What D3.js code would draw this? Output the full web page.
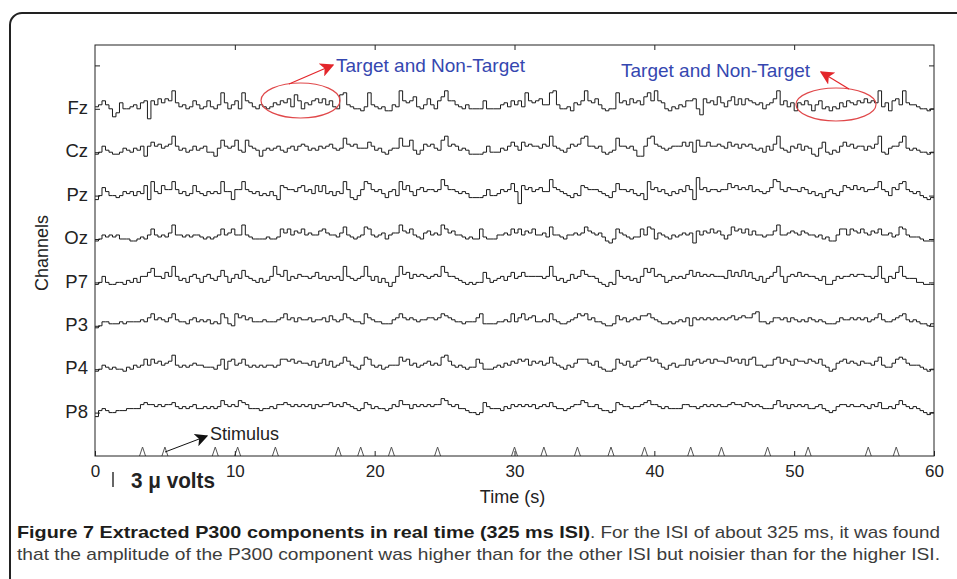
<!DOCTYPE html>
<html>
<head>
<meta charset="utf-8">
<script src="https://cdn.jsdelivr.net/npm/d3@7"></script>
<style>
  body { margin: 0; background: #fff; }
  svg text { font-family: "Liberation Sans", Arial, sans-serif; }
</style>
</head>
<body>
<script>
// channel names, top to bottom
const channels = ['Fz', 'Cz', 'Pz', 'Oz', 'P7', 'P3', 'P4', 'P8']

// traces: one sample every 0.25 s, values in 0.4 uV steps (one row = 15 s)
const fz = [
  1, 2, 4, 2, 0, -4, -2, 3, 0, 0, 1, 2, 0, 3, 4, -5, 4, 2, 5, 3, 5, 4, 9, 3, 1, 2, 0, 1, 4, 2, 0, 1, 4, 1, 0, 2, 8, 3, 0, 2, 4, 0, 8, 4, 3, 1, 0, 2, 1, 0, 1, 3, 2, 4, 3, 5, 1, 7, 4, 0,
  3, 2, 4, 5, 3, 5, 2, 4, 1, 0, 7, 8, 2, 1, 0, 0, -1, 1, 8, 2, 1, 0, 1, -1, -1, 2, 1, 9, 4, 3, 4, 6, 1, 0, 2, 5, 2, 0, 4, 6, 9, 4, 4, 2, 1, 0, 2, 0, 0, 0, 0, 4, 0, 0, 0, 0, 2, 3, 1, 4,
  2, 4, 1, 8, 4, 3, 4, 5, 2, 2, 8, 9, 2, 0, 0, 1, -1, 3, 2, 4, 9, 4, 3, 5, 2, 0, -1, 0, 0, 8, 3, 4, 2, 5, 3, 4, 2, 6, 8, 4, 9, 4, 3, 0, -1, 1, 0, 2, 1, 4, 4, 5, 0, -3, 5, 3, 4, 2, 6, 3,
  1, 4, 6, 2, 5, 2, 5, 4, 3, 2, 3, 0, 2, 3, 5, 9, 2, 4, 1, 3, -1, 3, 2, 4, 2, -1, 2, 4, 0, 1, -1, 1, 0, 3, 1, 4, 3, 2, 4, 3, 5, 3, 4, 3, 9, 1, 3, -1, 4, 5, 2, 9, 3, 2, 2, 1, 0, 0, -1, 0
]
const cz = [
  -1, 0, 3, 1, 0, -1, -1, 0, 2, 1, 0, 2, 1, 3, -2, 3, 5, 3, 4, 2, 3, 4, 8, 3, 1, 2, 0, 1, 3, 1, 2, 3, 0, 0, -2, 2, 6, 3, 2, 3, 6, 1, 0, 6, 3, 2, 1, -2, 1, 2, 1, 2, 3, 1, 0, 2, 3, 1, 3, 4,
  3, 1, 2, 1, 3, 2, 3, 4, 2, 1, 2, 7, 4, 3, 4, 2, 2, 2, 5, 3, 1, 2, 0, -1, 1, 2, 2, 7, 3, 3, 6, 1, -1, 1, 4, 3, 4, 2, 1, 6, 8, 3, 4, 3, 1, 2, 1, -1, -1, -1, -1, 0, 3, 0, 0, 0, 2, 1, 3, 5,
  3, 1, 5, 3, 4, 3, 3, 2, 4, 3, 8, 3, 2, 1, 0, 2, 4, 3, 4, 7, 8, 3, 3, 2, 3, 0, -1, 0, 1, 7, 3, 3, 2, 3, 1, -2, -2, 3, 7, 8, 4, 3, 2, 1, 2, 3, 3, 3, 5, 3, 5, 0, 6, 3, 3, 5, 3, 3, 4, 3,
  2, 5, 3, 4, 2, 4, 3, 4, 2, 1, 2, 0, 3, 1, 4, 8, 2, 1, 0, 3, 2, 4, 1, 3, 2, -1, -2, 2, 5, 0, -1, 1, 0, 3, 5, 3, 4, 2, 3, 3, 1, 3, 2, 4, 8, 0, -1, 2, 3, 3, 5, 8, 2, 1, 2, 1, 0, 0, -1, 0
]
const pz = [
  -2, 0, 4, 2, 0, 0, -1, 0, 2, 1, 2, 0, 2, 1, 5, -2, 7, 2, 1, 5, 3, 3, 7, 3, 1, 2, 0, 1, 5, 2, 1, 0, 2, 1, 2, 1, 7, 2, 2, -2, 3, 3, 7, 3, 2, 1, 2, 0, 1, 0, 2, 0, -2, 5, 4, 3, 3, 2, 4, 5,
  2, 3, 1, 5, 2, 5, 1, 2, 0, 2, 1, 7, 3, -1, -2, 0, 3, 7, 6, 3, 2, 3, 1, -1, 2, 3, 0, 7, 3, 5, 2, 0, 3, 4, 2, 3, 3, 2, 3, 8, 5, 3, 3, 2, 1, 2, 1, -1, -1, -1, -1, 0, 3, 0, 0, 1, 3, 2, 3, 6,
  2, -4, 5, 3, 4, 2, 3, 4, 2, 2, 8, 4, 3, 2, 1, 0, -1, 1, 0, 5, 4, 3, 3, 3, 2, 1, 0, -1, 2, 6, 3, 3, 2, 3, 1, 0, 1, -2, 7, 3, 4, 2, 3, 1, 0, 2, 1, 3, 2, 5, 3, -2, 9, 3, 4, 2, 3, 3, 2, 3,
  3, 6, 4, 5, 3, 4, 3, 5, 2, 3, 2, 1, 2, 4, 8, 7, 3, 2, 4, 3, 3, 2, 4, 3, 1, 2, 0, 1, -1, 2, 3, 1, 0, 2, 5, 4, 3, 5, 3, 4, 2, 3, 3, 4, 7, 3, 2, 0, 4, 3, 6, 7, 3, 2, 1, 2, 0, -1, -2, -1
]
const oz = [
  -1, 0, 2, 1, 2, 1, 2, 0, 0, 0, -1, -1, 0, 1, 0, 2, 5, 2, 1, 2, 1, 3, 7, 2, 2, 1, 2, 1, 2, 2, 1, 0, 1, 0, 1, 2, 5, 2, 3, 5, 2, 2, 7, 2, 1, 0, 0, 0, 0, 1, 0, 0, 1, 5, 3, 5, 2, 4, 3, 5,
  2, 3, 2, 2, 4, 5, 3, 2, 2, 1, 3, 6, 2, 1, 0, 1, 2, 6, 5, 2, 1, 2, 3, 0, 2, 3, 3, 7, 4, 3, 5, 2, 1, 0, 3, 4, 2, 3, 2, 7, 5, 3, 4, 2, 2, 1, 0, 1, 0, 0, 5, 1, 0, 0, 0, 2, 2, 3, 2, 5,
  3, 5, 2, 4, 3, 5, 2, 2, 3, 1, 6, 2, 2, 1, 0, 2, 2, 3, 2, 3, 6, 4, 3, 2, 3, 1, -1, -2, 0, 5, 3, 2, 1, 0, 1, 1, 5, 2, 6, 5, 0, 3, 2, 1, 0, 2, 1, 2, 3, 2, 3, -2, 4, 2, 4, 3, 5, 3, 4, 2,
  0, 2, 6, 4, 5, 3, 5, 2, 4, 2, 2, 1, 2, 2, 4, 7, 2, 2, 3, 4, 3, 2, 4, 3, 2, 2, 1, 2, 0, 1, -1, -1, 2, 5, 5, 2, 5, 4, 3, 5, 3, 2, 4, 3, 5, 2, 2, 3, 1, 2, 6, 5, 2, 1, 1, 1, 0, -1, -1, -1
]
const p7 = [
  -1, 0, 3, 0, -1, -1, 0, 0, -1, 1, 0, 2, 0, 3, 3, 5, 7, 3, 3, 2, 5, 3, 8, 3, 1, 2, 0, 3, 4, 2, 0, 3, 4, 2, 1, 3, 6, 3, 0, 2, 4, 2, 6, 3, 2, 1, 0, 2, 0, 1, 3, 8, 4, 3, 6, 1, 3, 2, 4, 3,
  3, 2, 3, 5, 2, 3, 1, 3, 2, 3, 1, 8, 3, 2, 1, 2, 3, 8, 3, 1, 3, 0, 2, 0, -2, 0, 3, 8, 4, 5, 2, 4, 3, 4, 3, 2, 3, 4, 3, 8, 5, 3, 3, 2, 1, 0, -1, 0, -1, 0, 0, 5, 2, 0, 1, 2, 3, 1, 3, 5,
  2, 3, 5, 3, 3, 3, 3, 3, 2, 3, 8, 3, 1, 2, 0, 1, 4, 2, 3, 6, 4, 3, 3, 2, 0, -1, -2, 0, -1, 6, 3, 2, 3, 1, 2, 0, 3, 7, 5, 7, 3, 4, 3, 0, 1, 3, 2, 3, 2, 4, 6, 3, 5, 3, 4, 3, 4, 3, 3, 3,
  2, 6, 3, 5, 3, 6, 3, 5, 2, 1, 3, 0, 2, 3, 5, 8, 3, 0, 3, 4, 3, 5, 3, 4, 3, 3, 2, 1, 3, -1, -1, 1, 3, 2, 3, 3, 4, 3, 4, 4, 3, 3, 2, 3, 8, 2, 0, 3, 2, 5, 8, 3, 2, 2, 2, 0, 0, -1, -1, -1
]
const p3 = [
  -1, 0, 2, 2, 1, 1, 1, 2, 1, 2, 2, 2, 2, 3, 2, 4, 6, 3, 4, 3, 2, 4, 6, 3, 2, 2, 1, 3, 4, 2, 3, 2, 3, 1, 2, 1, 6, 4, 1, 0, 6, 4, 5, 3, 4, 2, 2, 2, 3, 2, 2, 2, 3, 4, 6, 3, 4, 2, 4, 3,
  3, 4, 2, 3, 3, 4, 2, 5, 3, 2, 3, 6, 4, 3, 2, 2, 1, 6, 4, 3, 2, 2, 1, 1, 1, 3, 4, 6, 4, 3, 4, 3, 2, 3, 3, 4, 4, 3, 4, 6, 5, 4, 3, 2, 2, 1, 2, 2, 2, 4, 6, 1, 1, 1, 1, 2, 2, 3, 2, 6,
  2, 4, 6, 3, 4, 5, 2, 2, 3, 2, 6, 3, 2, 1, 1, 2, 3, 4, 6, 5, 6, 3, 4, 2, 2, 1, 0, 0, 1, 5, 3, 4, 2, 3, 4, 3, 5, 5, 6, 4, 3, 2, 1, 1, 2, 1, 2, 3, 2, 4, 0, 4, 3, 4, 3, 4, 3, 4, 3, 4,
  3, 4, 5, 3, 4, 5, 4, 4, 6, 7, 2, 2, 1, 2, 4, 4, 3, 4, 2, 4, 3, 2, 3, 2, 4, 3, 2, 3, 2, 1, 1, 1, 2, 4, 3, 3, 4, 3, 4, 3, 4, 2, 3, 4, 6, 3, 2, 2, 3, 4, 5, 6, 3, 2, 3, 2, 1, 1, 0, 1
]
const p4 = [
  -1, 0, 2, 1, 0, 1, 0, 0, -1, 1, 0, 2, 1, 2, 5, 2, 5, 3, 4, 2, 3, 4, 7, 2, 1, 2, 1, 2, 3, 2, 2, 1, 1, 1, 0, 2, 5, 0, 4, 5, 2, 3, 5, 2, 1, 2, 1, 2, 1, 2, 2, 1, 2, 5, 5, 4, 5, 3, 4, 3,
  3, 2, 4, 1, 3, 5, 2, 4, 1, 2, 3, 6, 4, 2, 1, 0, 2, 6, 5, 2, 1, 2, 0, 1, 2, 2, 2, 6, 4, 5, 2, 3, 1, 2, 3, 4, 2, 3, 2, 6, 7, 4, 2, 1, 2, 1, 0, 1, 1, 5, 3, 0, 0, 0, 1, 2, 1, 3, 2, 4,
  3, 5, 4, 5, 2, 4, 3, 4, 2, 3, 6, 3, 2, 1, 0, 2, 1, 3, 5, 5, 5, 3, 2, 4, 1, 0, -1, -1, 0, 5, 3, 2, 4, 1, 2, 4, 5, 5, 6, 4, 5, 3, 1, 0, 2, 3, 1, 2, 2, 5, 2, 4, 5, 3, 4, 5, 3, 5, 4, 4,
  3, 6, 4, 5, 3, 5, 2, 5, 6, 2, 2, 1, 2, 2, 5, 6, 3, 5, 4, 2, 5, 4, 4, 3, 5, 4, 3, 5, 2, 1, -1, 0, 3, 4, 5, 3, 4, 3, 2, 4, 3, 3, 2, 4, 6, 2, 1, 1, 3, 5, 6, 5, 3, 2, 2, 2, 1, 0, -1, 0
]
const p8 = [
  -2, 1, 2, 1, 0, 0, 1, 1, 1, 2, 2, 2, 2, 4, 5, 4, 4, 3, 4, 3, 4, 4, 5, 3, 2, 3, 2, 3, 4, 2, 2, 3, 2, 3, 2, 3, 6, 4, 3, 4, 3, 6, 5, 4, 2, 2, 2, 1, 2, 2, 3, 2, 4, 4, 5, 4, 3, 4, 3, 4,
  3, 4, 2, 4, 3, 4, 4, 5, 3, 4, 3, 5, 4, 3, 2, 1, 2, 5, 4, 2, 3, 2, 2, 1, 2, 4, 3, 6, 4, 4, 2, 4, 3, 4, 3, 4, 3, 4, 4, 7, 6, 4, 3, 4, 2, 2, 1, 0, 0, -1, 0, 5, 3, 2, 2, 2, 1, 3, 2, 4,
  3, 4, 3, 4, 3, 4, 2, 3, 4, 3, 5, 3, 2, 2, 1, 2, 3, 4, 4, 6, 5, 3, 3, 4, 2, 1, 1, 0, 1, 5, 4, 3, 3, 2, 3, 3, 4, 5, 6, 4, 4, 3, 2, 3, 2, 2, 2, 2, 4, 4, 3, 3, 2, 3, 4, 3, 4, 3, 4, 3,
  3, 4, 5, 4, 4, 3, 5, 4, 3, 4, 3, 2, 2, 2, 4, 6, 3, 4, 2, 4, 3, 4, 3, 4, 2, 2, 3, 4, 2, 1, 0, 1, 3, 4, 4, 3, 4, 3, 3, 4, 3, 2, 4, 3, 5, 2, 2, 3, 2, 4, 6, 4, 3, 2, 3, 2, 1, 0, -1, 0
]
const traces = [fz, cz, pz, oz, p7, p3, p4, p8]

// stimulus onsets (s)
const stimulusTimes = [3.4, 5.0, 8.6, 10.2, 12.9, 17.4, 19.0, 21.2, 24.5, 30.0, 32.1, 34.5, 36.9, 39.3, 42.6, 44.8, 48.1, 51.0, 55.3, 57.3]
const timeTicks = [0, 10, 20, 30, 40, 50, 60]
const sampleStep = 0.25
const stepUV = 0.4
const scaleBarUV = 3

const width = 957
const height = 579
const svg = d3.select('body').append('svg')
  .attr('width', width)
  .attr('height', height)

// rounded figure frame (runs off the right and bottom edges)
svg.append('rect')
  .attr('x', 10).attr('y', 13)
  .attr('width', 990).attr('height', 640)
  .attr('rx', 12)
  .attr('fill', 'none')
  .attr('stroke', '#222')
  .attr('stroke-width', 2)

const x = d3.scaleLinear().domain([0, 60]).range([95, 934])
const y = d3.scaleLinear().domain([0, 9.47]).range([456, 45])
const amp = d3.scaleLinear().domain([0, 3]).range([0, 15]) // uV -> px

const level = i => channels.length - i

const defs = svg.append('defs')
const addHead = (id, color, size) => defs.append('marker')
  .attr('id', id)
  .attr('viewBox', '0 0 10 10')
  .attr('refX', 9).attr('refY', 5)
  .attr('markerWidth', size).attr('markerHeight', size)
  .attr('markerUnits', 'userSpaceOnUse')
  .attr('orient', 'auto')
  .append('path')
    .attr('d', 'M0,0 L10,5 L0,10 L2.5,5 Z')
    .attr('fill', color)
addHead('head-red', '#e3262b', 14)
addHead('head-black', '#111', 13)

// traces
const plot = svg.append('g')
traces.forEach((vals, i) => {
  const pts = vals.map((v, k) => [k * sampleStep, v])
  pts.push([60, vals[vals.length - 1]])
  const line = d3.line()
    .x(d => x(d[0]))
    .y(d => y(level(i)) - amp(d[1] * stepUV))
    .curve(d3.curveStepAfter)
  plot.append('path')
    .attr('d', line(pts))
    .attr('fill', 'none')
    .attr('stroke', '#1a1a1a')
    .attr('stroke-width', 1)
})

// stimulus markers
svg.append('g').selectAll('path')
  .data(stimulusTimes)
  .enter().append('path')
    .attr('d', t => `M${x(t) - 3},${y(0)} L${x(t)},${y(0) - 9} L${x(t) + 3},${y(0)}`)
    .attr('fill', 'none')
    .attr('stroke', '#555')
    .attr('stroke-width', 1)

// axes, ticks pointing inwards
const styleAxis = g => {
  g.select('.domain').remove()
  g.attr('font-family', '"Liberation Sans", Arial, sans-serif')
    .attr('color', '#222')
}
svg.append('g')
  .attr('transform', `translate(0,${y(0)})`)
  .call(d3.axisBottom(x).tickValues(timeTicks).tickSize(-5).tickPadding(9))
  .call(styleAxis)
  .attr('font-size', 17)
svg.append('g')
  .attr('transform', `translate(0,${y.range()[1]})`)
  .call(d3.axisTop(x).tickValues(timeTicks.slice(1, -1)).tickSize(-5).tickFormat(''))
  .call(styleAxis)
const levels = d3.range(1, channels.length + 2)
svg.append('g')
  .attr('transform', `translate(${x(0)},0)`)
  .call(d3.axisLeft(y).tickValues(levels).tickSize(-5).tickPadding(7)
    .tickFormat(v => channels[channels.length - v] || ''))
  .call(styleAxis)
  .attr('font-size', 18.5)
  .selectAll('text').attr('dy', '0.25em')
svg.append('g')
  .attr('transform', `translate(${x(60)},0)`)
  .call(d3.axisRight(y).tickValues(levels).tickSize(-5).tickFormat(''))
  .call(styleAxis)

svg.append('rect')
  .attr('x', x(0)).attr('y', y.range()[1])
  .attr('width', x(60) - x(0)).attr('height', y(0) - y.range()[1])
  .attr('fill', 'none')
  .attr('stroke', '#222')
  .attr('stroke-width', 1)

// axis titles
svg.append('text')
  .attr('x', x(30) - 2).attr('y', 503)
  .attr('text-anchor', 'middle')
  .attr('font-size', 18)
  .attr('fill', '#222')
  .text('Time (s)')
svg.append('text')
  .attr('transform', 'translate(48,253) rotate(-90)')
  .attr('text-anchor', 'middle')
  .attr('font-size', 18)
  .attr('fill', '#222')
  .text('Channels')

// amplitude scale bar
svg.append('line')
  .attr('x1', 113).attr('x2', 113)
  .attr('y1', 487).attr('y2', 487 - amp(scaleBarUV))
  .attr('stroke', '#333')
  .attr('stroke-width', 1.5)
svg.append('text')
  .attr('x', 131).attr('y', 488)
  .attr('font-size', 22)
  .attr('font-weight', 'bold')
  .attr('fill', '#222')
  .attr('textLength', 84)
  .attr('lengthAdjust', 'spacingAndGlyphs')
  .text(`${scaleBarUV} \u03bc volts`)

// stimulus annotation
svg.append('line')
  .attr('x1', 165).attr('y1', 452)
  .attr('x2', 207).attr('y2', 436)
  .attr('stroke', '#111')
  .attr('marker-end', 'url(#head-black)')
svg.append('text')
  .attr('x', 210).attr('y', 440)
  .attr('font-size', 18)
  .attr('fill', '#222')
  .text('Stimulus')

// target annotations
const notes = [
  { tx: 336, ty: 72, cx: 300.5, cy: 100.5, rx: 39.5, ry: 17.5, from: [289, 84], to: [333, 65] },
  { tx: 621, ty: 77, cx: 836, cy: 104.5, rx: 40, ry: 16.5, from: [849, 89], to: [821, 72] }
]
notes.forEach(n => {
  svg.append('ellipse')
    .attr('cx', n.cx).attr('cy', n.cy)
    .attr('rx', n.rx).attr('ry', n.ry)
    .attr('fill', 'none')
    .attr('stroke', '#e0484a')
    .attr('stroke-width', 1.2)
  svg.append('line')
    .attr('x1', n.from[0]).attr('y1', n.from[1])
    .attr('x2', n.to[0]).attr('y2', n.to[1])
    .attr('stroke', '#e3262b')
    .attr('stroke-width', 1.2)
    .attr('marker-end', 'url(#head-red)')
  svg.append('text')
    .attr('x', n.tx).attr('y', n.ty)
    .attr('font-size', 19)
    .attr('fill', '#3547b0')
    .text('Target and Non-Target')
})

// caption
const capFont = '"Liberation Sans Narrow", "Liberation Sans", Arial, sans-serif'
svg.append('text')
  .attr('x', 17).attr('y', 538)
  .attr('font-family', capFont)
  .attr('font-size', 17)
  .attr('font-weight', 'bold')
  .attr('fill', '#1d1d1b')
  .attr('textLength', 573)
  .attr('lengthAdjust', 'spacingAndGlyphs')
  .text('Figure 7 Extracted P300 components in real time (325 ms ISI)')
svg.append('text')
  .attr('x', 590).attr('y', 538)
  .attr('font-family', capFont)
  .attr('font-size', 17)
  .attr('fill', '#3c3c3b')
  .attr('textLength', 350)
  .attr('lengthAdjust', 'spacingAndGlyphs')
  .text('. For the ISI of about 325 ms, it was found')
svg.append('text')
  .attr('x', 17).attr('y', 560)
  .attr('font-family', capFont)
  .attr('font-size', 17)
  .attr('fill', '#3c3c3b')
  .attr('textLength', 923)
  .attr('lengthAdjust', 'spacingAndGlyphs')
  .text('that the amplitude of the P300 component was higher than for the other ISI but noisier than for the higher ISI.')
</script>
</body>
</html>
